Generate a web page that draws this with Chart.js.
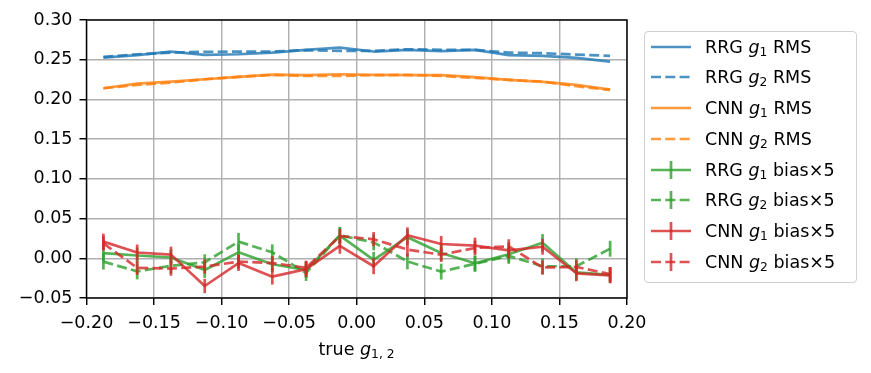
<!DOCTYPE html>
<html>
<head>
<meta charset="utf-8">
<script src="https://cdn.jsdelivr.net/npm/chart.js@4.4.1/dist/chart.umd.min.js"></script>
<style>
  html, body { margin: 0; padding: 0; background: #fff; }
  #wrap { position: relative; width: 871px; height: 373px; font-family: "DejaVu Sans", sans-serif; color: #000; }
  #chart { position: absolute; left: 0; top: 0; }
  #legend {
    position: absolute; left: 644px; top: 31px; width: 211px; height: 250px;
    border: 1px solid #d0d0d0; border-radius: 4px; background: rgba(255,255,255,0.8);
  }
  .row { position: absolute; left: 0; height: 30px; display: flex; align-items: center; font-size: 17.5px; white-space: nowrap; }
  .row svg { margin-left: 5px; margin-right: 14px; }
  sub { font-size: 70%; vertical-align: -0.28em; line-height: 0; }
  #xtitle { position: absolute; left: 86px; width: 541px; top: 338px; line-height: 22px; text-align: center; font-size: 17.5px; }
</style>
</head>
<body>
<div id="wrap">
  <canvas id="chart" width="871" height="373"></canvas>
  <div id="legend"></div>
  <div id="xtitle">true <i>g</i><sub>1, 2</sub></div>
</div>
<script>
// ---------- Data ----------
const xTrue = [-0.1875, -0.1625, -0.1375, -0.1125, -0.0875, -0.0625, -0.0375, -0.0125,
               0.0125, 0.0375, 0.0625, 0.0875, 0.1125, 0.1375, 0.1625, 0.1875];

const rrgG1Rms = [0.2527, 0.2557, 0.2603, 0.2561, 0.2569, 0.2590, 0.2624, 0.2653,
                  0.2603, 0.2624, 0.2607, 0.2624, 0.2557, 0.2548, 0.2523, 0.2477];
const rrgG2Rms = [0.2535, 0.2569, 0.2590, 0.2599, 0.2603, 0.2603, 0.2620, 0.2611,
                  0.2611, 0.2632, 0.2624, 0.2624, 0.2590, 0.2582, 0.2565, 0.2548];
const cnnG1Rms = [0.2141, 0.2200, 0.2225, 0.2254, 0.2284, 0.2313, 0.2305, 0.2317,
                  0.2309, 0.2305, 0.2305, 0.2280, 0.2246, 0.2221, 0.2183, 0.2124];
const cnnG2Rms = [0.2141, 0.2183, 0.2212, 0.2254, 0.2284, 0.2309, 0.2296, 0.2296,
                  0.2305, 0.2309, 0.2296, 0.2271, 0.2246, 0.2225, 0.2166, 0.2120];

const rrgG1Bias = [0.0065, 0.0035, 0.0010, -0.0147, 0.0075, -0.0075, -0.0147, 0.0285,
                   -0.0020, 0.0265, 0.0067, -0.0063, 0.0050, 0.0195, -0.0178, -0.0210];
const rrgG2Bias = [-0.0042, -0.0165, -0.0095, -0.0050, 0.0210, 0.0075, -0.0185, 0.0290,
                   0.0200, -0.0040, -0.0168, -0.0070, 0.0030, -0.0100, -0.0100, 0.0120];
const cnnG1Bias = [0.0210, 0.0073, 0.0046, -0.0349, -0.0060, -0.0231, -0.0137, 0.0157,
                   -0.0100, 0.0290, 0.0180, 0.0160, 0.0100, 0.0145, -0.0189, -0.0215];
const cnnG2Bias = [0.0188, -0.0120, -0.0130, -0.0105, -0.0042, -0.0060, -0.0120, 0.0280,
                   0.0240, 0.0110, 0.0045, 0.0130, 0.0150, -0.0116, -0.0110, -0.0200];

const rrgG1Err = [0.010, 0.010, 0.010, 0.010, 0.010, 0.010, 0.010, 0.011,
                  0.010, 0.010, 0.010, 0.010, 0.010, 0.011, 0.010, 0.010];
const rrgG2Err = [0.010, 0.010, 0.010, 0.010, 0.011, 0.010, 0.010, 0.010,
                  0.010, 0.010, 0.010, 0.010, 0.010, 0.010, 0.010, 0.010];
const cnnG1Err = [0.010, 0.010, 0.010, 0.009, 0.010, 0.010, 0.010, 0.010,
                  0.010, 0.010, 0.010, 0.010, 0.010, 0.010, 0.010, 0.010];
const cnnG2Err = [0.009, 0.009, 0.009, 0.009, 0.009, 0.009, 0.009, 0.009,
                  0.009, 0.009, 0.009, 0.009, 0.009, 0.009, 0.009, 0.009];

const xTicks = { min: -0.2, max: 0.2, step: 0.05 };
const yTicks = { min: -0.05, max: 0.30, step: 0.05 };

// ---------- Styles ----------
const BLUE = "rgba(31,119,180,0.8)";
const ORANGE = "rgba(255,127,14,0.8)";
const GREEN = "rgba(44,160,44,0.8)";
const RED = "rgba(214,39,40,0.8)";
const LW = 2.7;
const DASH = [10, 4.3];

const series = [
  { method: "RRG", comp: "1", kind: "RMS", values: rrgG1Rms, color: BLUE, dashed: false },
  { method: "RRG", comp: "2", kind: "RMS", values: rrgG2Rms, color: BLUE, dashed: true },
  { method: "CNN", comp: "1", kind: "RMS", values: cnnG1Rms, color: ORANGE, dashed: false },
  { method: "CNN", comp: "2", kind: "RMS", values: cnnG2Rms, color: ORANGE, dashed: true },
  { method: "RRG", comp: "1", kind: "bias\u00d75", values: rrgG1Bias, errors: rrgG1Err, color: GREEN, dashed: false },
  { method: "RRG", comp: "2", kind: "bias\u00d75", values: rrgG2Bias, errors: rrgG2Err, color: GREEN, dashed: true },
  { method: "CNN", comp: "1", kind: "bias\u00d75", values: cnnG1Bias, errors: cnnG1Err, color: RED, dashed: false },
  { method: "CNN", comp: "2", kind: "bias\u00d75", values: cnnG2Bias, errors: cnnG2Err, color: RED, dashed: true }
];

function fmt(v) {
  const s = Math.abs(v) < 1e-9 ? 0 : v;
  return (s < 0 ? "\u2212" : "") + Math.abs(s).toFixed(2);
}

// ---------- Plugins ----------
const errorBars = {
  id: "errorBars",
  afterDatasetDraw(chart, args) {
    const ds = chart.data.datasets[args.index];
    if (!ds.errors) return;
    const xs = chart.scales.x, ys = chart.scales.y;
    const ctx = chart.ctx;
    ctx.save();
    ctx.strokeStyle = ds.borderColor;
    ctx.lineWidth = ds.borderWidth;
    ctx.lineCap = "butt";
    ctx.setLineDash([]);
    ds.data.forEach((p, i) => {
      const px = xs.getPixelForValue(p.x);
      ctx.beginPath();
      ctx.moveTo(px, ys.getPixelForValue(p.y - ds.errors[i]));
      ctx.lineTo(px, ys.getPixelForValue(p.y + ds.errors[i]));
      ctx.stroke();
    });
    ctx.restore();
  }
};

const frame = {
  id: "frame",
  afterDatasetsDraw(chart) {
    const a = chart.chartArea, ctx = chart.ctx;
    ctx.save();
    ctx.strokeStyle = "#000";
    ctx.lineWidth = 1.45;
    ctx.strokeRect(a.left, a.top, a.right - a.left, a.bottom - a.top);
    ctx.restore();
  }
};

// ---------- Chart ----------
Chart.defaults.font.family = "'DejaVu Sans'";
Chart.defaults.font.size = 17.5;
Chart.defaults.color = "#000";

const datasets = series.map((s, i) => ({
  label: `${s.method} g${s.comp} ${s.kind}`,
  data: xTrue.map((x, k) => ({ x: x, y: s.values[k] })),
  errors: s.errors || null,
  borderColor: s.color,
  borderWidth: LW,
  borderDash: s.dashed ? DASH : [],
  borderCapStyle: "butt",
  borderJoinStyle: "round",
  pointRadius: 0,
  tension: 0,
  fill: false,
  order: series.length - i
}));

const gridOpts = { color: "#b0b0b0", lineWidth: 1.45, tickColor: "#000", tickWidth: 1.45, tickLength: 7 };

new Chart(document.getElementById("chart").getContext("2d"), {
  type: "line",
  data: { datasets },
  options: {
    responsive: false,
    animation: false,
    devicePixelRatio: 1,
    layout: { padding: { left: 0, top: 20, right: 244, bottom: 0 } },
    plugins: { legend: { display: false }, tooltip: { enabled: false } },
    scales: {
      x: {
        type: "linear", min: xTicks.min, max: xTicks.max,
        ticks: { stepSize: xTicks.step, callback: fmt, autoSkip: false, maxRotation: 0, padding: 8 },
        grid: gridOpts,
        border: { display: false },
        afterFit(s) { s.height = 75; s.paddingLeft = 0; s.paddingRight = 0; }
      },
      y: {
        type: "linear", min: yTicks.min, max: yTicks.max,
        ticks: { stepSize: yTicks.step, callback: fmt, autoSkip: false, padding: 7 },
        grid: gridOpts,
        border: { display: false },
        afterFit(s) { s.width = 86.5; s.paddingTop = 0; s.paddingBottom = 0; }
      }
    }
  },
  plugins: [errorBars, frame]
});

// ---------- Legend ----------
const legend = document.getElementById("legend");
series.forEach((s, i) => {
  const row = document.createElement("div");
  row.className = "row";
  row.style.top = (14.7 + 30.7 * i - 15) + "px";
  const dash = s.dashed ? `stroke-dasharray="${DASH.join(" ")}"` : "";
  const bar = s.errors ? `<line x1="21" y1="3" x2="21" y2="21" stroke="${s.color}" stroke-width="${LW}"/>` : "";
  row.innerHTML =
    `<svg width="41" height="24"><line x1="1" y1="12" x2="41" y2="12" stroke="${s.color}" stroke-width="${LW}" ${dash}/>${bar}</svg>` +
    `<span>${s.method} <i>g</i><sub>${s.comp}</sub> ${s.kind}</span>`;
  legend.appendChild(row);
});
</script>
</body>
</html>
